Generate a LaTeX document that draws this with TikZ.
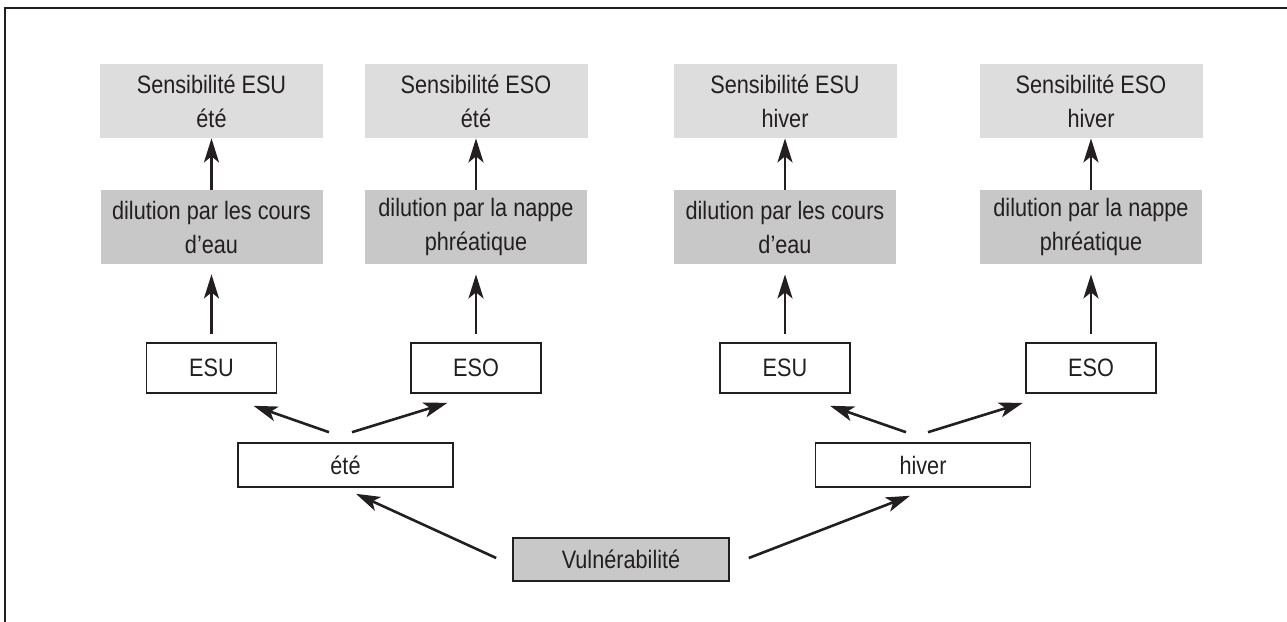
\documentclass[tikz,border=0pt]{standalone}
\usepackage{xcolor}
\usepackage{fontspec}
\setmainfont{Liberation Sans}[FakeStretch=0.86]
\usepackage{tikz}
\usetikzlibrary{calc, arrows.meta}
\definecolor{sensgrey}{gray}{0.865}
\definecolor{dilgrey}{gray}{0.785}
\definecolor{ink}{HTML}{231F20}
\tikzstyle{sens}     = [rectangle, minimum width=111.5pt, minimum height=37pt, align=center, fill=sensgrey]
\tikzstyle{dilution} = [rectangle, minimum width=111pt, minimum height=37pt, align=center, fill=dilgrey]
\tikzstyle{eau}      = [rectangle, minimum width=65pt, minimum height=25pt, draw=ink, line width=0.8pt]
\tikzstyle{saison}   = [rectangle, minimum width=107.5pt, minimum height=22pt, draw=ink, line width=0.8pt]
\tikzstyle{vuln}     = [rectangle, minimum width=108pt, minimum height=21.5pt, draw=ink, line width=0.8pt, fill=dilgrey]
\tikzstyle{arrow}    = [line width=1.3pt, draw=ink, -{Stealth[length=12pt, width=7.5pt, inset=3pt]}]

\begin{document}
\begin{tikzpicture}[x=0.5pt, y=-0.5pt, node distance=63pt,
    every node/.style={text=ink, font=\fontsize{12.6pt}{17pt}\selectfont}]
    \useasboundingbox (0,0) rectangle (1287,622);
    \draw [draw=ink, line width=1pt] (4.5,622) -- (4.5,7.5) -- (1287,7.5);

    \node (esuE)  [eau] at (211.5,368)  {ESU};
    \node (esoE)  [eau] at (476,368)    {ESO};
    \node (esuH)  [eau] at (785,368)    {ESU};
    \node (esoH)  [eau] at (1091,368)   {ESO};
    \node (dilE1) [dilution, above of=esuE, yshift=7.5pt] {dilution par les cours\\d’eau};
    \node (dilE2) [dilution, above of=esoE, yshift=7.5pt] {dilution par la nappe\\phréatique};
    \node (dilH1) [dilution, above of=esuH, yshift=7.5pt] {dilution par les cours\\d’eau};
    \node (dilH2) [dilution, above of=esoH, yshift=7.5pt] {dilution par la nappe\\phréatique};
    \node (senE1) [sens, above of=dilE1] {Sensibilité ESU\\été};
    \node (senE2) [sens, above of=dilE2] {Sensibilité ESO\\été};
    \node (senH1) [sens, above of=dilH1] {Sensibilité ESU\\hiver};
    \node (senH2) [sens, above of=dilH2] {Sensibilité ESO\\hiver};
    \node (ete)   [saison] at (345.5,465) {été};
    \node (hiver) [saison] at (923,465)   {hiver};
    \node (vul)   [vuln]   at (621,559.5) {Vulnérabilité};

    \draw [arrow] (dilE1) -- (senE1);
    \draw [arrow] (dilE2) -- (senE2);
    \draw [arrow] (dilH1) -- (senH1);
    \draw [arrow] (dilH2) -- (senH2);
    \draw [arrow, shorten <=4pt, shorten >=5pt] (esuE) -- (dilE1);
    \draw [arrow, shorten <=4pt, shorten >=5pt] (esoE) -- (dilE2);
    \draw [arrow, shorten <=4pt, shorten >=5pt] (esuH) -- (dilH1);
    \draw [arrow, shorten <=4pt, shorten >=5pt] (esoH) -- (dilH2);
    \draw [arrow] ($(ete.north)+(-8.25pt,5pt)$)   -- ($(esuE.south)+(21pt,-6pt)$);
    \draw [arrow] ($(ete.north)+(3.25pt,5pt)$)    -- ($(esoE.south)+(-14.25pt,-4.5pt)$);
    \draw [arrow] ($(hiver.north)+(-8.5pt,5pt)$)  -- ($(esuH.south)+(22.5pt,-6pt)$);
    \draw [arrow] ($(hiver.north)+(2.5pt,5pt)$)   -- ($(esoH.south)+(-34pt,-4.5pt)$);
    \draw [arrow] ($(vul.west)+(-8pt,0.75pt)$)    -- ($(ete.south)+(5.25pt,-3pt)$);
    \draw [arrow] ($(vul.east)+(9.5pt,0.75pt)$)   -- ($(hiver.south)+(-6.5pt,-4pt)$);
  \end{tikzpicture}
\end{document}
